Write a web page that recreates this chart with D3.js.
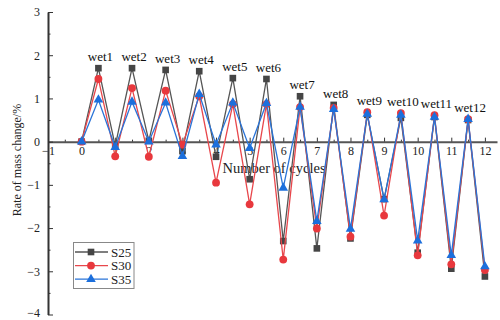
<!DOCTYPE html>
<html>
<head>
<meta charset="utf-8">
<script src="https://cdn.jsdelivr.net/npm/d3@7"></script>
<style>
  html, body { margin: 0; padding: 0; background: #fff; }
  svg { display: block; font-family: "Liberation Serif", "Times New Roman", serif; }
</style>
</head>
<body>
<svg id="chart" width="500" height="320"></svg>
<script>
// Mass-change rate over wet/dry cycles for three specimens
const cycles = [0, 0.5, 1, 1.5, 2, 2.5, 3, 3.5, 4, 4.5, 5, 5.5, 6, 6.5, 7, 7.5, 8, 8.5, 9, 9.5, 10, 10.5, 11, 11.5, 12];
const s25 = [0, 1.70, -0.10, 1.70, 0.02, 1.66, -0.22, 1.63, -0.35, 1.47, -0.87, 1.45, -2.30, 1.05, -2.47, 0.85, -2.24, 0.62, -1.33, 0.55, -2.57, 0.57, -2.94, 0.50, -3.12];
const s30 = [0, 1.45, -0.34, 1.24, -0.35, 1.18, -0.07, 1.05, -0.95, 0.87, -1.45, 0.87, -2.73, 0.80, -2.01, 0.78, -2.20, 0.68, -1.71, 0.66, -2.63, 0.61, -2.84, 0.52, -2.97];
const s35 = [0, 0.97, -0.13, 0.92, 0.00, 0.90, -0.34, 1.10, -0.07, 0.90, -0.15, 0.89, -1.07, 0.80, -1.84, 0.75, -2.02, 0.64, -1.34, 0.62, -2.29, 0.57, -2.63, 0.52, -2.89];
const seriesNames = ["S25", "S30", "S35"];
const wetLabels = ["wet1", "wet2", "wet3", "wet4", "wet5", "wet6", "wet7", "wet8", "wet9", "wet10", "wet11", "wet12"];
const xTicks = [-1, 0, 1, 2, 3, 4, 5, 6, 7, 8, 9, 10, 11, 12];
const yTicks = [-4, -3, -2, -1, 0, 1, 2, 3];

const svg = d3.select("#chart");
const x = d3.scaleLinear().domain([-1, 12.36]).range([48, 497]);
const y = d3.scaleLinear().domain([-4, 3]).range([314.5, 12]);

const styles = [
  { color: "#454545", line: "#555", symbol: d3.symbolSquare, size: 44 },
  { color: "#e8383d", line: "#e8474c", symbol: d3.symbolCircle, size: 48 },
  { color: "#1c6fdc", line: "#2a74d8", symbol: d3.symbolTriangle, size: 40 }
];
const values = [s25, s30, s35];

// x axis through zero
const gx = svg.append("g").attr("transform", `translate(0,${y(0)})`);
gx.call(d3.axisBottom(x).tickValues(xTicks).tickSizeInner(-4).tickSizeOuter(0).tickPadding(5).tickFormat(d3.format("d")));
gx.select(".domain").attr("stroke", "#555").attr("stroke-width", 2);
gx.selectAll(".tick line").attr("stroke", "#333");
gx.selectAll(".tick text").attr("font-size", 12).attr("fill", "#222").attr("font-family", "Liberation Serif");
const gxm = svg.append("g").attr("transform", `translate(0,${y(0)})`);
gxm.call(d3.axisBottom(x).tickValues(d3.range(-0.5, 12.4, 1)).tickSizeInner(-2).tickSizeOuter(0).tickFormat(""));
gxm.select(".domain").remove();
gxm.selectAll(".tick line").attr("stroke", "#333");

// y axis
const gy = svg.append("g").attr("transform", `translate(${x(-1)},0)`);
gy.call(d3.axisLeft(y).tickValues(yTicks).tickSizeInner(-5).tickSizeOuter(0).tickPadding(8).tickFormat(d3.format("d")));
gy.select(".domain").attr("stroke", "#333").attr("stroke-width", 2);
gy.selectAll(".tick line").attr("stroke", "#333");
gy.selectAll(".tick text").attr("font-size", 12).attr("fill", "#222").attr("font-family", "Liberation Serif")
  .attr("dy", d => d === -4 ? "0.15em" : "0.32em");
const gym = svg.append("g").attr("transform", `translate(${x(-1)},0)`);
gym.call(d3.axisLeft(y).tickValues(d3.range(-3.5, 3, 1)).tickSizeInner(-2.5).tickSizeOuter(0).tickFormat(""));
gym.select(".domain").remove();
gym.selectAll(".tick line").attr("stroke", "#333");

// axis titles
svg.append("text")
  .attr("x", 274).attr("y", 173)
  .attr("text-anchor", "middle")
  .attr("font-size", 14.5).attr("fill", "#222")
  .text("Number of cycles");
svg.append("text")
  .attr("transform", "translate(17,160) rotate(-90)")
  .attr("text-anchor", "middle").attr("dominant-baseline", "central")
  .attr("font-size", 12).attr("fill", "#222")
  .text("Rate of mass change/%");

// series lines and markers
const line = d3.line().x((d, i) => x(cycles[i])).y(d => y(d));
values.forEach((vals, k) => {
  const st = styles[k];
  svg.append("path")
    .datum(vals)
    .attr("fill", "none")
    .attr("stroke", st.line)
    .attr("stroke-width", 1.3)
    .attr("d", line);
  svg.append("g").selectAll("path")
    .data(vals)
    .join("path")
    .attr("transform", (d, i) => `translate(${x(cycles[i])},${y(d)})`)
    .attr("d", d3.symbol().type(st.symbol).size(st.size))
    .attr("fill", st.color);
});

// wet-cycle labels above each peak
wetLabels.forEach((lab, j) => {
  const idx = 2 * j + 1;
  const top = Math.max(s25[idx], s30[idx], s35[idx]);
  svg.append("text")
    .attr("x", x(cycles[idx]) + 2)
    .attr("y", y(top) - 7)
    .attr("text-anchor", "middle")
    .attr("font-size", 13).attr("fill", "#111")
    .text(lab);
});

// legend
const leg = svg.append("g");
leg.append("rect")
  .attr("x", 73.5).attr("y", 242.5).attr("width", 60.5).attr("height", 46)
  .attr("fill", "#fff").attr("stroke", "#888").attr("stroke-width", 1);
seriesNames.forEach((name, k) => {
  const st = styles[k];
  const ry = 252 + k * 13.6;
  leg.append("line")
    .attr("x1", 75).attr("x2", 108).attr("y1", ry).attr("y2", ry)
    .attr("stroke", st.line).attr("stroke-width", 1.3);
  leg.append("path")
    .attr("transform", `translate(91,${ry})`)
    .attr("d", d3.symbol().type(st.symbol).size(st.size))
    .attr("fill", st.color);
  leg.append("text")
    .attr("x", 111).attr("y", ry + 4.5)
    .attr("font-size", 13).attr("fill", "#222")
    .text(name);
});
</script>
</body>
</html>
